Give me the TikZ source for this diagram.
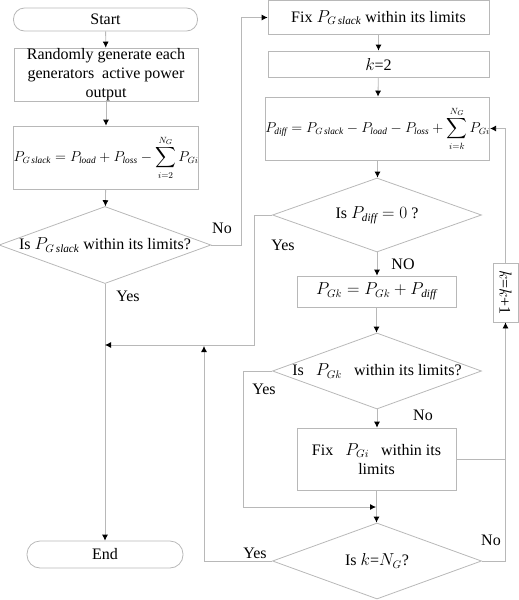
\documentclass[tikz,border=0pt]{standalone}
\usepackage{amsmath}
\usepackage{fontspec}
\setmainfont{Liberation Serif}
\usetikzlibrary{shapes.geometric,arrows.meta}

\begin{document}
\begin{tikzpicture}[x=1pt, y=-1pt,
    font=\fontsize{16}{19}\selectfont,
    line/.style={draw=black!28, line width=0.8pt},
    flow/.style={line, -{Latex[length=6pt, width=6pt, color=black]}},
    term/.style={line, rectangle, rounded corners=11pt, minimum height=23pt, inner sep=0pt},
    proc/.style={line, rectangle, align=center, inner sep=0pt},
    formula/.style={proc, font=\fontsize{13.3}{16}\selectfont},
    decide/.style={line, diamond, aspect=2.75, inner sep=0pt, minimum width=209pt, minimum height=76pt}]
    \useasboundingbox (0,0) rectangle (519,600);

    % left column
    \node [term, minimum width=184pt] (start) at (105.5,19.5) {Start};
    \node [proc, minimum width=184pt, minimum height=53pt] (rand) at (106,74.5)
      {Randomly generate each\\generators\ \ active power\\output};
    \node [formula, minimum width=184pt, minimum height=63pt] (slack) at (106,157.5)
      {$P_{G\,\mathit{slack}} = P_{\mathit{load}} + P_{\mathit{loss}} - \displaystyle\sum_{i=2}^{N_G} P_{Gi}$};
    \node [decide, minimum width=210pt] (d1) at (105,245) {Is $P_{G\,\mathit{slack}}$ within its limits?};
    \node [term, minimum width=156pt, minimum height=27pt, rounded corners=13pt] (end) at (105,554.5) {End};

    % right column
    \node [proc, minimum width=221pt, minimum height=34pt] (fixslack) at (378.5,17.5)
      {Fix $P_{G\,\mathit{slack}}$ within its limits};
    \node [proc, minimum width=221pt, minimum height=26pt] (k2) at (378.5,64) {$k$=2};
    \node [formula, minimum width=219pt, minimum height=63pt] (pdiff) at (377.5,128.5)
      {$P_{\mathit{diff}} = P_{G\,\mathit{slack}} - P_{\mathit{load}} - P_{\mathit{loss}} + \displaystyle\sum_{i=k}^{N_G} P_{Gi}$};
    \node [decide, minimum height=74pt, aspect=2.82] (d2) at (377,215) {Is $P_{\mathit{diff}} = 0$ ?};
    \node [proc, minimum width=159pt, minimum height=31pt] (pgk) at (376.5,291.5)
      {$P_{Gk} = P_{Gk} + P_{\mathit{diff}}$};
    \node [decide] (d3) at (377,371) {Is\ \ \ $P_{Gk}$\ \ \ within its limits?};
    \node [proc, minimum width=159pt, minimum height=62pt] (fixgi) at (376.5,459)
      {Fix\ \ \ $P_{Gi}$\ \ \ within its\\limits};
    \node [decide] (d4) at (377,561) {Is $k$=$N_G$?};
    \node [proc, rotate=-90, minimum width=59pt, minimum height=25pt] (kinc) at (505.5,292.5)
      {$k$=$k$+1};

    \coordinate (m1) at (105,345);
    \coordinate (m2) at (376,507);

    \draw [flow] (start) -- (rand);
    \draw [flow] (rand) -- (slack);
    \draw [flow] (slack) -- (d1);
    \draw [flow] (d1.east) -- (241,245) -- (241,17.5) -- (fixslack.west);
    \draw [flow] (d1.south) -- (end.north);
    \draw [flow] (fixslack) -- (k2);
    \draw [flow] (k2) -- (pdiff);
    \draw [flow] (pdiff.south) -- (pdiff.south |- d2.north);
    \draw [flow] (d2.west) -- (254,215) -- (254,345) -- (m1);
    \draw [flow] (d2.south) -- (d2.south |- pgk.north);
    \draw [flow] (pgk.south) -- (pgk.south |- d3.north);
    \draw [flow] (d3.west) -- (243,371) -- (243,507) -- (m2);
    \draw [flow] (d3.south) -- (d3.south |- fixgi.north);
    \draw [flow] (fixgi.south) -- (fixgi.south |- d4.north);
    \draw [line] (fixgi.east) -- (505.5,459);
    \draw [flow] (d4.east) -- (505.5,561) -- (kinc.east);
    \draw [flow] (kinc.west) -- (505.5,128.5) -- (pdiff.east);
    \draw [flow] (d4.west) -- (204,561) -- (204,346);

    \node at (222,228) {No};
    \node at (128,296) {Yes};
    \node at (283,245) {Yes};
    \node at (403,264) {NO};
    \node at (264,389) {Yes};
    \node at (423,415) {No};
    \node at (491,540) {No};
    \node at (255,553) {Yes};
\end{tikzpicture}
\end{document}
